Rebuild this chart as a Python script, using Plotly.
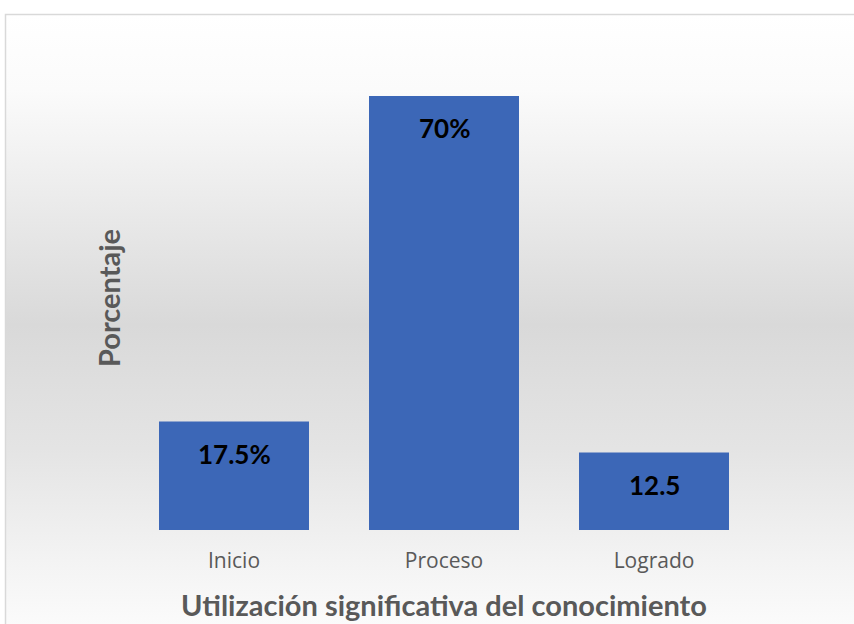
import base64
import plotly.graph_objects as go

categories = ["Inicio", "Proceso", "Logrado"]
values = [17.5, 70, 12.5]
labels = ["17.5%", "70%", "12.5"]
x_title = "Utilización significativa del conocimiento"
y_title = "Porcentaje"

W, H = 854, 624
L, R, T, B = 129, 95, 34, 94
pw, ph = W - L - R, H - T - B

def px_x(x):
    return (x - L) / pw

def px_y(y):
    return (H - B - y) / ph

bg_svg = (
    '<svg xmlns="http://www.w3.org/2000/svg" width="100" height="100" preserveAspectRatio="none">'
    '<defs><linearGradient id="g" x1="0" y1="0" x2="0" y2="1">'
    '<stop offset="0" stop-color="#ffffff"/>'
    '<stop offset="0.12" stop-color="#fbfbfb"/>'
    '<stop offset="0.3" stop-color="#ebebeb"/>'
    '<stop offset="0.5" stop-color="#d9d9d9"/>'
    '<stop offset="0.7" stop-color="#e4e4e4"/>'
    '<stop offset="0.88" stop-color="#f3f3f3"/>'
    '<stop offset="1" stop-color="#fcfcfc"/>'
    '</linearGradient></defs>'
    '<rect width="100" height="100" fill="url(#g)"/></svg>'
)
bg_uri = "data:image/svg+xml;base64," + base64.b64encode(bg_svg.encode()).decode()

fig = go.Figure()
fig.add_trace(go.Bar(
    x=categories, y=values,
    marker=dict(color="#3c67b7", line=dict(width=0)),
    hoverinfo="skip",
))

for c, v, t in zip(categories, values, labels):
    fig.add_annotation(
        x=c, y=v, xref="x", yref="y", text=f"<b>{t}</b>", showarrow=False,
        yanchor="middle", yshift=-32,
        font=dict(family="Lato", size=26, color="#000000"),
    )

fig.add_annotation(
    x=0.5, y=px_y(604), xref="paper", yref="paper", text=f"<b>{x_title}</b>",
    showarrow=False, xanchor="center", yanchor="middle",
    font=dict(family="Lato", size=29, color="#595959"),
)
fig.add_annotation(
    x=px_x(108), y=px_y(298), xref="paper", yref="paper", text=f"<b>{y_title}</b>",
    showarrow=False, xanchor="center", yanchor="middle", textangle=-90,
    font=dict(family="Lato", size=29, color="#595959"),
)

fig.update_layout(
    width=W, height=H,
    margin=dict(l=L, r=R, t=T, b=B, pad=0),
    paper_bgcolor="#ffffff", plot_bgcolor="rgba(0,0,0,0)",
    bargap=0.2857,
    showlegend=False,
    images=[dict(
        source=bg_uri, xref="paper", yref="paper",
        x=px_x(6), y=px_y(15), sizex=(W + 10 - 6) / pw, sizey=(H + 10 - 15) / ph,
        xanchor="left", yanchor="top", sizing="stretch", layer="below",
    )],
    shapes=[dict(
        type="rect", xref="paper", yref="paper",
        x0=px_x(5.5), x1=px_x(W + 10), y0=px_y(H + 10), y1=px_y(14.5),
        line=dict(color="#d9d9d9", width=1.5), fillcolor="rgba(0,0,0,0)", layer="below",
    )],
    xaxis=dict(
        range=[-0.5, 2.5], showgrid=False, zeroline=False, showline=False,
        ticks="outside", ticklen=12, tickcolor="rgba(0,0,0,0)",
        tickfont=dict(family="Open Sans", size=21, color="#595959"),
    ),
    yaxis=dict(range=[0, 80], visible=False, showgrid=False, zeroline=False),
)

fig.write_html("out.html")
